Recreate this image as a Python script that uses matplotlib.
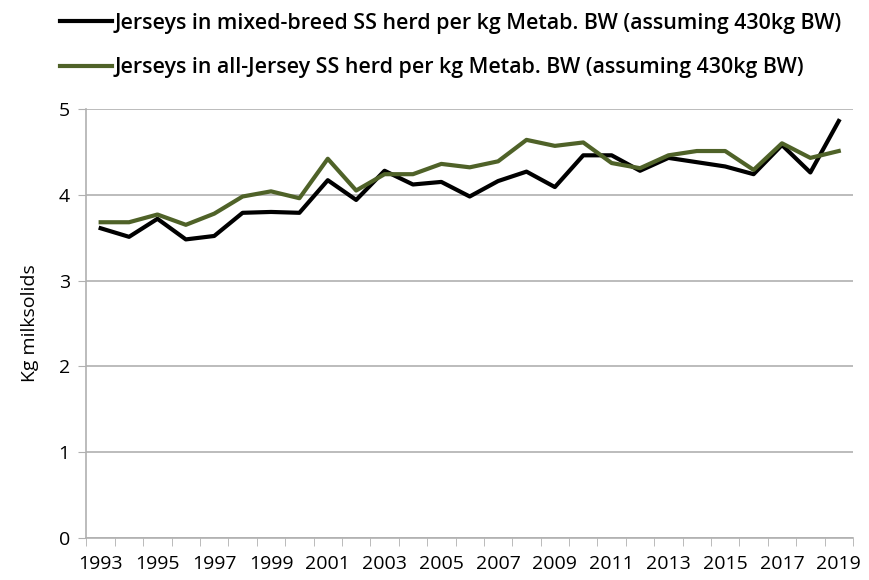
import numpy as np
import matplotlib.pyplot as plt

years = list(range(1993, 2020))
mixed_breed = [3.61, 3.51, 3.72, 3.48, 3.52, 3.79, 3.80, 3.79, 4.17, 3.94,
               4.28, 4.12, 4.15, 3.98, 4.16, 4.27, 4.09, 4.46, 4.46, 4.28,
               4.43, 4.38, 4.33, 4.24, 4.58, 4.26, 4.86]
all_jersey = [3.68, 3.68, 3.77, 3.65, 3.78, 3.98, 4.04, 3.96, 4.42, 4.05,
              4.24, 4.24, 4.36, 4.32, 4.39, 4.64, 4.57, 4.61, 4.37, 4.31,
              4.46, 4.51, 4.51, 4.29, 4.60, 4.43, 4.51]
labels = ['Jerseys in mixed-breed SS herd per kg Metab. BW (assuming 430kg BW)',
          'Jerseys in all-Jersey SS herd per kg Metab. BW (assuming 430kg BW)']

plt.rcParams['font.family'] = ['Open Sans', 'DejaVu Sans']

fig = plt.figure(figsize=(8.7, 5.8), dpi=100)
ax = fig.add_axes([0.0994, 0.0724, 0.881, 0.7397])

x = np.arange(len(years))
l1, = ax.plot(x, mixed_breed, color='black', lw=3)
l2, = ax.plot(x, all_jersey, color='#4F6228', lw=3)

ax.set_xlim(-0.5, len(years) - 0.5)
ax.set_ylim(0, 5)
ax.set_yticks(range(6))
ax.grid(axis='y', color='#b0b0b0', lw=1.2)
ax.set_axisbelow(True)

ax.set_xticks(x[::2])
ax.set_xticklabels([str(y) for y in years[::2]])
ax.set_xticks(np.arange(-0.5, len(years)), minor=True)
ax.tick_params(axis='x', which='major', length=0, pad=12, labelsize=14)
ax.tick_params(axis='x', which='minor', length=6, color='#b0b0b0', direction='out')
ax.tick_params(axis='y', length=6, color='#b0b0b0', labelsize=14, pad=6)

for s in ['top', 'right']:
    ax.spines[s].set_visible(False)
for s in ['left', 'bottom']:
    ax.spines[s].set_color('#b0b0b0')
    ax.spines[s].set_linewidth(1.2)

ax.set_ylabel('Kg milksolids', fontsize=14, labelpad=14)

fig.legend([l1, l2], labels, loc='upper left', bbox_to_anchor=(0.069, 0.978),
           frameon=False, borderpad=0, borderaxespad=0, handlelength=2.45,
           handletextpad=0.1, labelspacing=1.1,
           prop={'size': 15.4, 'weight': 'semibold'})

fig.savefig('out.png')
